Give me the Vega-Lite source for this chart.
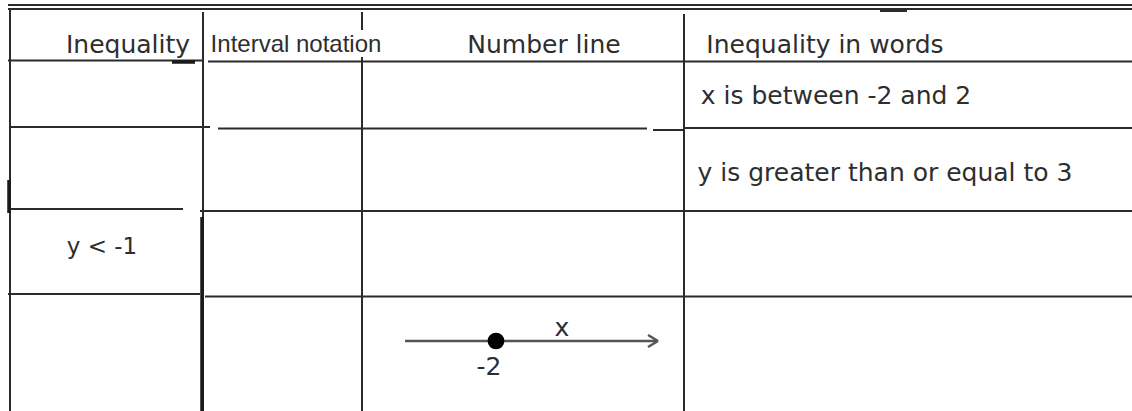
{
  "$schema": "https://vega.github.io/schema/vega-lite/v6.json",
  "width": 1132,
  "height": 411,
  "autosize": {"type": "none"},
  "padding": 0,
  "background": "white",
  "config": {"view": {"stroke": null}},
  "datasets": {
    "grid": [
      {"x": 8, "x2": 1132, "y": 5, "y2": 5},
      {"x": 8, "x2": 1132, "y": 9, "y2": 9},
      {"x": 880, "x2": 907, "y": 11, "y2": 11},
      {"x": 10, "x2": 10, "y": 9, "y2": 411},
      {"x": 203, "x2": 203, "y": 12, "y2": 411},
      {"x": 362, "x2": 362, "y": 12, "y2": 30},
      {"x": 362, "x2": 362, "y": 57, "y2": 411},
      {"x": 684, "x2": 684, "y": 14, "y2": 411},
      {"x": 8, "x2": 203, "y": 60.5, "y2": 60.5},
      {"x": 208, "x2": 1132, "y": 61.5, "y2": 61.5},
      {"x": 10, "x2": 210, "y": 127, "y2": 127},
      {"x": 218, "x2": 647, "y": 128.5, "y2": 128.5},
      {"x": 653, "x2": 684, "y": 130, "y2": 130},
      {"x": 684, "x2": 1132, "y": 128, "y2": 128},
      {"x": 8, "x2": 183, "y": 209, "y2": 209},
      {"x": 200, "x2": 1132, "y": 211, "y2": 211},
      {"x": 8, "x2": 200, "y": 294, "y2": 294},
      {"x": 205, "x2": 1132, "y": 296.5, "y2": 296.5}
    ],
    "heavy": [
      {"x": 9, "x2": 9, "y": 180, "y2": 213},
      {"x": 202, "x2": 202, "y": 217, "y2": 411},
      {"x": 172, "x2": 195, "y": 62, "y2": 62}
    ],
    "numberline": [
      {"x": 405, "x2": 657, "y": 341, "y2": 341},
      {"x": 658, "x2": 648, "y": 341, "y2": 335},
      {"x": 658, "x2": 648, "y": 341, "y2": 347}
    ],
    "dots": [
      {"x": 496, "y": 341}
    ],
    "texts": [
      {"x": 128, "y": 45, "t": "Inequality", "kind": "header"},
      {"x": 296, "y": 45, "t": "Interval notation", "kind": "header2"},
      {"x": 544, "y": 45, "t": "Number line", "kind": "header"},
      {"x": 825, "y": 45, "t": "Inequality in words", "kind": "header"},
      {"x": 836, "y": 96, "t": "x is between -2 and 2", "kind": "cell"},
      {"x": 885, "y": 173, "t": "y is greater than or equal to 3", "kind": "cell"},
      {"x": 102, "y": 247, "t": "y < -1", "kind": "cell2"},
      {"x": 562, "y": 328, "t": "x", "kind": "cell"},
      {"x": 489, "y": 367, "t": "-2", "kind": "cell"}
    ]
  },
  "layer": [
    {
      "data": {"name": "grid"},
      "mark": {"type": "rule", "color": "#2b2b2b", "strokeWidth": 2},
      "encoding": {
        "x": {"field": "x", "type": "quantitative", "scale": {"domain": [0, 1132], "nice": false, "zero": false}, "axis": null},
        "x2": {"field": "x2"},
        "y": {"field": "y", "type": "quantitative", "scale": {"domain": [0, 411], "nice": false, "zero": false, "reverse": true}, "axis": null},
        "y2": {"field": "y2"}
      }
    },
    {
      "data": {"name": "heavy"},
      "mark": {"type": "rule", "color": "#1a1a1a", "strokeWidth": 3.5},
      "encoding": {
        "x": {"field": "x", "type": "quantitative"},
        "x2": {"field": "x2"},
        "y": {"field": "y", "type": "quantitative"},
        "y2": {"field": "y2"}
      }
    },
    {
      "data": {"name": "numberline"},
      "mark": {"type": "rule", "color": "#555555", "strokeWidth": 2.5},
      "encoding": {
        "x": {"field": "x", "type": "quantitative"},
        "x2": {"field": "x2"},
        "y": {"field": "y", "type": "quantitative"},
        "y2": {"field": "y2"}
      }
    },
    {
      "data": {"name": "dots"},
      "mark": {"type": "point", "filled": true, "color": "#000000", "opacity": 1, "size": 280},
      "encoding": {
        "x": {"field": "x", "type": "quantitative"},
        "y": {"field": "y", "type": "quantitative"}
      }
    },
    {
      "data": {"name": "texts"},
      "transform": [{"filter": "datum.kind === 'header' || datum.kind === 'cell'"}],
      "mark": {"type": "text", "align": "center", "baseline": "middle", "color": "#2e2e2e", "font": "DejaVu Sans", "fontSize": 25},
      "encoding": {
        "x": {"field": "x", "type": "quantitative"},
        "y": {"field": "y", "type": "quantitative"},
        "text": {"field": "t"}
      }
    },
    {
      "data": {"name": "texts"},
      "transform": [{"filter": "datum.kind === 'header2'"}],
      "mark": {"type": "text", "align": "center", "baseline": "middle", "color": "#2e2e2e", "font": "Liberation Sans", "fontSize": 24},
      "encoding": {
        "x": {"field": "x", "type": "quantitative"},
        "y": {"field": "y", "type": "quantitative"},
        "text": {"field": "t"}
      }
    },
    {
      "data": {"name": "texts"},
      "transform": [{"filter": "datum.kind === 'cell2'"}],
      "mark": {"type": "text", "align": "center", "baseline": "middle", "color": "#2e2e2e", "font": "DejaVu Sans", "fontSize": 23},
      "encoding": {
        "x": {"field": "x", "type": "quantitative"},
        "y": {"field": "y", "type": "quantitative"},
        "text": {"field": "t"}
      }
    }
  ]
}
